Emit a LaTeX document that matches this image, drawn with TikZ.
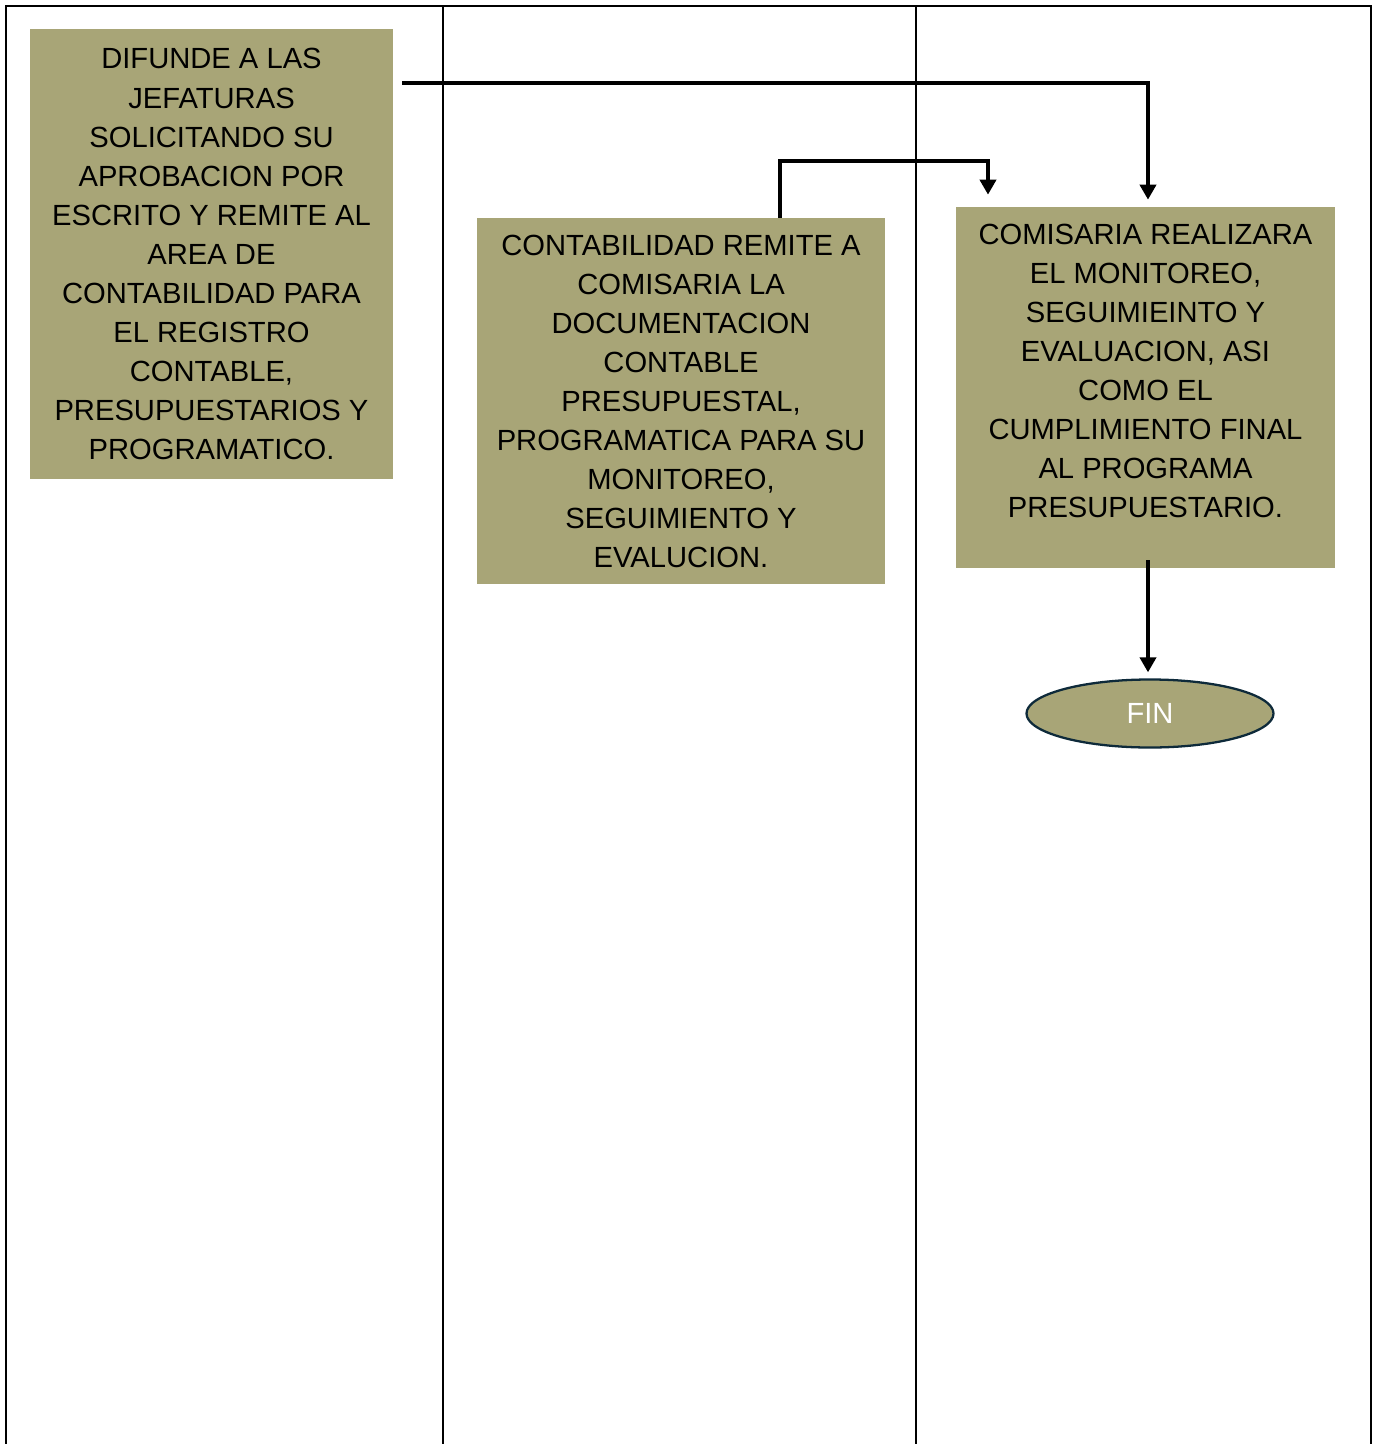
\documentclass[tikz,border=0pt]{standalone}
\usepackage{fontspec}
\setmainfont{Liberation Sans}
\usepackage{tikz}
\usetikzlibrary{
  arrows.meta,
  positioning,
  shapes.geometric
}
\definecolor{flowolive}{HTML}{A8A577}
\definecolor{flownavy}{HTML}{0E2A3A}

\begin{document}
\begin{tikzpicture}[
  lane/.style={line width=1.3pt, black},
  task/.style={
    rectangle, fill=flowolive, align=center,
    inner sep=0pt,
    font=\fontsize{16.6}{22.2}\selectfont, text=black
  },
  endnode/.style={
    ellipse, draw=flownavy, line width=1.3pt, fill=flowolive,
    minimum width=49.4mm, minimum height=13.6mm,
    font=\fontsize{16.6}{22.2}\selectfont, text=white
  },
  flow/.style={line width=2.2pt, -{Triangle[length=3mm, width=3.2mm]}}
]

\useasboundingbox (0, 0) rectangle (27.46, -28.88);

% swimlanes
\draw[lane] (0.12, -28.88) -- (0.12, -0.12) -- (27.42, -0.12) -- (27.42, -28.88);
\draw[lane] (8.86, -0.12) -- (8.86, -28.88);
\draw[lane] (18.32, -0.12) -- (18.32, -28.88);

\node[task, minimum width=72.6mm, minimum height=90mm] (difunde) at (4.23, -5.08)
  {DIFUNDE A LAS\\JEFATURAS\\SOLICITANDO SU\\APROBACION POR\\ESCRITO Y REMITE AL\\AREA DE\\CONTABILIDAD PARA\\EL REGISTRO\\CONTABLE,\\PRESUPUESTARIOS Y\\PROGRAMATICO.};
\node[task, minimum width=81.6mm, minimum height=73.2mm] (contab) at (13.62, -8.02)
  {CONTABILIDAD REMITE A\\COMISARIA LA\\DOCUMENTACION\\CONTABLE\\PRESUPUESTAL,\\PROGRAMATICA PARA SU\\MONITOREO,\\SEGUIMIENTO Y\\EVALUCION.};
\node[task, minimum width=75.8mm, minimum height=72.2mm] (comis) at (22.91, -7.75)
  {COMISARIA REALIZARA\\EL MONITOREO,\\SEGUIMIEINTO Y\\EVALUACION, ASI\\COMO EL\\CUMPLIMIENTO FINAL\\AL PROGRAMA\\PRESUPUESTARIO.\\[-1.2mm]\mbox{}};

\node[endnode, below=22mm of comis, xshift=0.9mm] (fin) {FIN};

% connectors
\coordinate (difout) at (8.04, -1.66);
\coordinate (contup) at (19.76, -3.22);
\draw[flow] (difout) -| ([xshift=0.5mm, yshift=1.4mm]comis.north);
\draw[flow] ([xshift=19.8mm]contab.north) |- (contup) -- ([yshift=2.4mm]contup |- comis.north);
\draw[flow] ([xshift=0.5mm, yshift=1.6mm]comis.south) -- ([xshift=0.5mm, yshift=1.2mm]comis.south |- fin.north);

\end{tikzpicture}
\end{document}
